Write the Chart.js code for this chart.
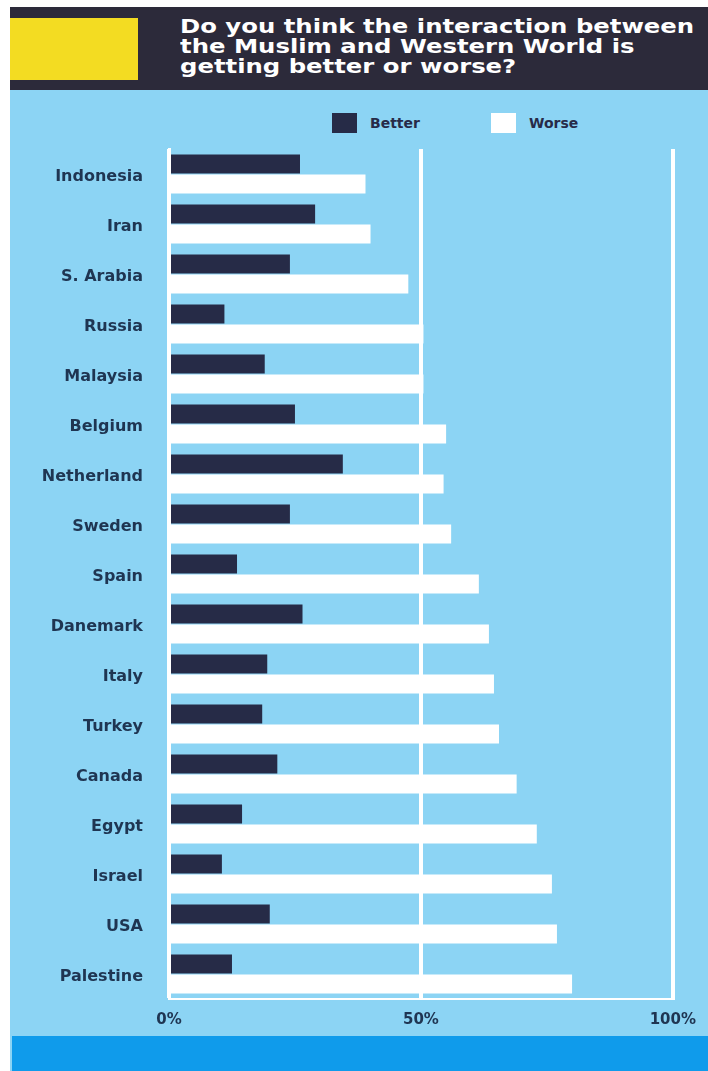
<!DOCTYPE html>
<html>
<head>
<meta charset="utf-8">
<script src="https://cdn.jsdelivr.net/npm/chart.js@4.4.1/dist/chart.umd.min.js"></script>
<style>
  html, body { margin: 0; padding: 0; background: #fff; }
  #page { position: relative; width: 708px; height: 1071px; overflow: hidden; }
  #panel { position: absolute; left: 10px; top: 7px; right: 0; bottom: 0; background: #8cd4f4; }
  #header { position: absolute; left: 10px; top: 7px; right: 0; height: 83px; background: #2c2a3a; }
  #flag { position: absolute; left: 10px; top: 18px; width: 128px; height: 62px; background: #f3dc22; }
  #title {
    position: absolute; left: 180px; top: 16px; color: #fff;
    font: bold 19px/20px "DejaVu Sans"; white-space: nowrap;
    transform: scaleX(1.28); transform-origin: left top;
  }
  #footer { position: absolute; left: 12px; top: 1036px; right: 0; bottom: 0; background: #0f9beb; }
  #legend { position: absolute; left: 332px; top: 113px; display: flex; }
  .item { width: 159px; display: flex; align-items: center; font: bold 14px "DejaVu Sans"; color: #272b48; }
  .swatch { width: 25px; height: 20px; margin-right: 13px; }
  #chartBox { position: absolute; left: 0; top: 140px; width: 708px; height: 895px; }
  #chartBox canvas { display: block; }
</style>
</head>
<body>
<div id="page">
  <div id="panel"></div>
  <div id="header"></div>
  <div id="flag"></div>
  <div id="title">Do you think the interaction between<br>the Muslim and Western World is<br>getting better or worse?</div>
  <div id="legend"></div>
  <div id="chartBox"><canvas id="barChart" width="708" height="895"></canvas></div>
  <div id="footer"></div>
</div>
<script>
// survey answers, percent of respondents
const countries = ['Indonesia', 'Iran', 'S. Arabia', 'Russia', 'Malaysia', 'Belgium', 'Netherland', 'Sweden',
                   'Spain', 'Danemark', 'Italy', 'Turkey', 'Canada', 'Egypt', 'Israel', 'USA', 'Palestine'];
const better = [26, 29, 24, 11, 19, 25, 34.5, 24, 13.5, 26.5, 19.5, 18.5, 21.5, 14.5, 10.5, 20, 12.5];
const worse  = [39, 40, 47.5, 50.5, 50.5, 55, 54.5, 56, 61.5, 63.5, 64.5, 65.5, 69, 73, 76, 77, 80];
const seriesNames = ['Better', 'Worse'];
const axisTicks = [0, 50, 100];

const navy = '#262b47';
const labelColor = '#1f3552';

const ctx = document.getElementById('barChart').getContext('2d');
const barChart = new Chart(ctx, {
  type: 'bar',
  data: {
    labels: countries,
    datasets: [
      { label: seriesNames[0], data: better, backgroundColor: navy },
      { label: seriesNames[1], data: worse, backgroundColor: '#ffffff' }
    ]
  },
  options: {
    indexAxis: 'y',
    responsive: false,
    animation: false,
    datasets: { bar: { categoryPercentage: 0.8, barPercentage: 0.95 } },
    layout: { padding: { top: 9, right: 35, left: 0, bottom: 0 } },
    scales: {
      x: {
        min: axisTicks[0],
        max: axisTicks[axisTicks.length - 1],
        afterBuildTicks: scale => { scale.ticks = axisTicks.map(v => ({ value: v })); },
        afterFit: scale => { scale.height = 36; },
        ticks: {
          callback: v => v + '%',
          padding: 12,
          color: labelColor,
          font: { family: 'DejaVu Sans', weight: 'bold', size: 15 }
        },
        grid: { color: '#ffffff', lineWidth: 4, drawTicks: false },
        border: { color: '#ffffff', width: 2 }
      },
      y: {
        afterFit: scale => {
          scale.width = 169;
          // keep the plot top where the layout padding puts it
          scale.paddingTop = 0;
          scale.paddingBottom = 0;
        },
        ticks: {
          padding: 18,
          labelOffset: 3,
          color: labelColor,
          font: { family: 'DejaVu Sans', weight: 'bold', size: 16 }
        },
        grid: { display: false },
        border: { color: '#ffffff', width: 3 }
      }
    },
    plugins: {
      legend: { display: false },
      tooltip: { enabled: false }
    }
  }
});

// legend above the plot, built from the datasets
const legend = document.getElementById('legend');
barChart.data.datasets.forEach(ds => {
  const item = document.createElement('div');
  item.className = 'item';
  const swatch = document.createElement('span');
  swatch.className = 'swatch';
  swatch.style.backgroundColor = ds.backgroundColor;
  item.appendChild(swatch);
  item.appendChild(document.createTextNode(ds.label));
  legend.appendChild(item);
});
</script>
</body>
</html>
